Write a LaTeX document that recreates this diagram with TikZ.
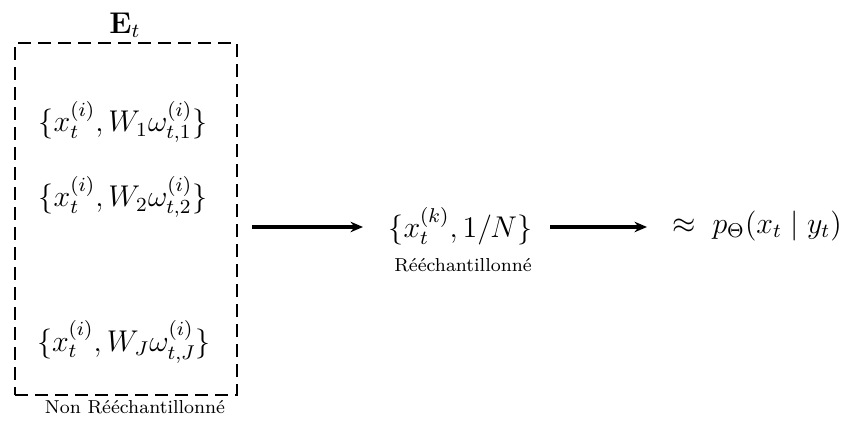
\documentclass[tikz,border=0pt]{standalone}
\usepackage{amsmath}
\usetikzlibrary{arrows.meta}
\begin{document}
\begin{tikzpicture}[x=0.4pt,y=-0.4pt,
  mathtxt/.style={inner sep=0pt, font=\large},
  smalltxt/.style={inner sep=0pt, font=\fontsize{7.5}{9}\selectfont},
  arr/.style={-{Stealth[length=5pt,width=4.2pt]}, line width=1.4pt}]
\useasboundingbox (0,0) rectangle (854,424);
\node[mathtxt] (E) at (125,25) {$\mathbf{E}_t$};
\node[draw, line width=1.1pt, dash pattern=on 5.2pt off 2.8pt, minimum width=222*0.4pt, minimum height=352*0.4pt, inner sep=0pt] (box) at (126,219) {};
\node[mathtxt] (r1) at (123,122) {$\{x_t^{(i)}, W_1\omega_{t,1}^{(i)}\}$};
\node[mathtxt] (r2) at (123,197) {$\{x_t^{(i)}, W_2\omega_{t,2}^{(i)}\}$};
\node[mathtxt] (rJ) at (124,342) {$\{x_t^{(i)}, W_J\omega_{t,J}^{(i)}\}$};
\node[smalltxt] (nr) at (135,407) {Non Rééchantillonné};
\node[mathtxt, anchor=west] (mid) at (388,226) {$\{x_t^{(k)}, 1/N\}$};
\node[smalltxt] (re) at (463,265) {Rééchantillonné};
\node[mathtxt, anchor=west] (res) at (672,226) {$\approx\; p_\Theta(x_t \mid y_t)$};
\coordinate (a1s) at (252,227);
\coordinate (a1e) at (363,227);
\coordinate (a2s) at (550,227);
\coordinate (a2e) at (647,227);
\draw[arr] (a1s) -- (a1e);
\draw[arr] (a2s) -- (a2e);
\end{tikzpicture}
\end{document}
